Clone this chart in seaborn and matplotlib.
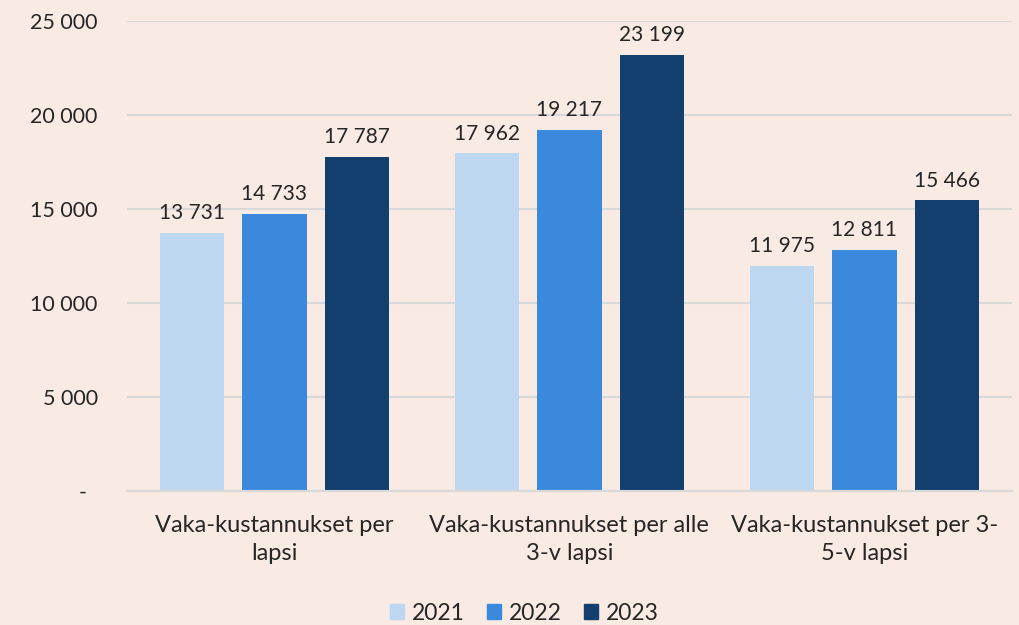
import matplotlib
matplotlib.use("Agg")
import matplotlib.pyplot as plt
import seaborn as sns
import pandas as pd
from matplotlib.ticker import FuncFormatter

categories = ["Vaka-kustannukset per\nlapsi",
              "Vaka-kustannukset per alle\n3-v lapsi",
              "Vaka-kustannukset per 3-\n5-v lapsi"]
years = ["2021", "2022", "2023"]
values_2021 = [13731, 17962, 11975]
values_2022 = [14733, 19217, 12811]
values_2023 = [17787, 23199, 15466]
colors = ["#BDD7F0", "#3B89DC", "#133F6E"]
bg = "#F9EAE3"

rows = []
for y, vals in zip(years, [values_2021, values_2022, values_2023]):
    for c, v in zip(categories, vals):
        rows.append({"cat": c, "year": y, "value": v})
df = pd.DataFrame(rows)

sns.set_theme(style="white")
plt.rcParams['font.family'] = ['Lato', 'DejaVu Sans']

fig = plt.figure(figsize=(10.2, 6.25), dpi=100, facecolor=bg)
ax = fig.add_axes([0.1245, 0.2144, 0.8675, 0.7520])
ax.set_facecolor(bg)

sns.barplot(data=df, x="cat", y="value", hue="year", palette=colors,
            width=0.84, gap=0.22, saturation=1, ax=ax, legend=True,
            edgecolor="none", linewidth=0)

def fmt(v, pos=None):
    if v == 0:
        return "-  "
    return f"{int(v):,}".replace(",", " ")

for cont in ax.containers:
    labels = [fmt(b.get_height()) for b in cont]
    ax.bar_label(cont, labels=labels, padding=7, fontsize=15, color="#262626")

ax.set_ylim(0, 25000)
ax.set_xlim(-0.5, 2.5)
ax.set_yticks(range(0, 25001, 5000))
ax.yaxis.set_major_formatter(FuncFormatter(fmt))
ax.yaxis.grid(True, color="#D9D9D9", linewidth=1.5)
ax.set_axisbelow(True)
for s in ["top", "right", "left"]:
    ax.spines[s].set_visible(False)
ax.spines["bottom"].set_color("#D9D9D9")
ax.spines["bottom"].set_linewidth(1.5)
ax.tick_params(axis="y", length=0, pad=21, labelsize=15.5, labelcolor="#262626")
ax.tick_params(axis="x", length=0, pad=17, labelsize=17, labelcolor="#262626")
for t in ax.get_yticklabels():
    t.set_horizontalalignment("right")
for t in ax.get_xticklabels():
    t.set_linespacing(1.42)
ax.set_xlabel("")
ax.set_ylabel("")

ax.legend_.remove()
handles = [plt.Rectangle((0, 0), 1, 1, color=c) for c in colors]
fig.legend(handles, years, loc="center", bbox_to_anchor=(0.514, 0.019),
           ncol=3, frameon=False, fontsize=16.5, handlelength=0.62, handleheight=0.62,
           handletextpad=0.35, columnspacing=0.96, labelcolor="#262626")

fig.savefig("out.png", dpi=100, facecolor=bg)
